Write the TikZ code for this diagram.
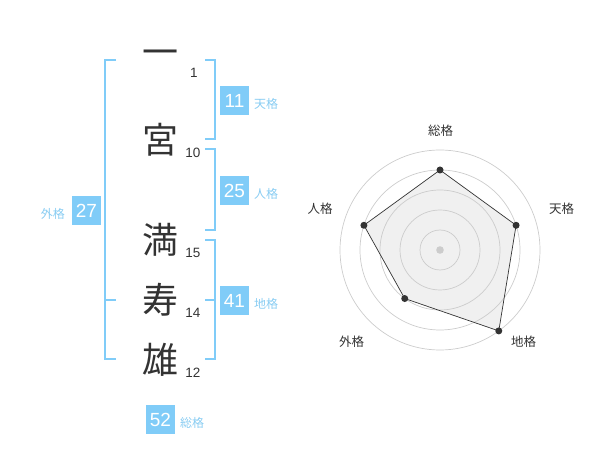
\documentclass[tikz,border=0pt]{standalone}
\usepackage{fontspec}
\usetikzlibrary{calc}
\setmainfont{Liberation Sans}
\newfontfamily\cjk{Noto Sans CJK JP}
\definecolor{skyb}{HTML}{80CCF8}
\definecolor{skyl}{HTML}{88CCF2}
\definecolor{ink}{HTML}{333333}
\definecolor{ringc}{HTML}{CCCCCC}
\definecolor{fillc}{HTML}{F0F0F0}
\begin{document}
\begin{tikzpicture}[x=1pt,y=-1pt,
  kanji/.style={inner sep=0pt,text=ink,font=\cjk\fontsize{36}{36}\selectfont},
  strokes/.style={inner sep=0pt,text=ink,font=\fontsize{13.5}{13.5}\selectfont},
  numbox/.style={fill=skyb,text=white,minimum width=29pt,minimum height=29pt,inner sep=0pt,font=\fontsize{19}{19}\selectfont},
  kaku/.style={inner sep=0pt,text=skyl,font=\cjk\fontsize{12}{12}\selectfont},
  brk/.style={draw=skyb,line width=2pt},
  ring/.style={draw=ringc,line width=0.7pt},
  axlab/.style={inner sep=0pt,text=ink,font=\cjk\fontsize{12.5}{12.5}\selectfont},
  dot/.style={circle,fill=ink,inner sep=0pt,minimum size=7pt}]
\useasboundingbox (0,0) rectangle (600,470);

% name characters
\node[kanji] (k1) at (160,58) {一};
\node[kanji] (k2) at (160,140) {宮};
\node[kanji] (k3) at (160,240) {満};
\node[kanji] (k4) at (160,300) {寿};
\node[kanji] (k5) at (160,360) {雄};
% stroke counts
\node[strokes] (s1) at (194,73) {1};
\node[strokes] (s2) at (193,153) {10};
\node[strokes] (s3) at (193,253) {15};
\node[strokes] (s4) at (193,313) {14};
\node[strokes] (s5) at (193,373) {12};

% brackets
\draw[brk] (116,60) -- (105,60) -- (105,359) -- (116,359);
\draw[brk] (105,300) -- (116,300);
\draw[brk] (205,60) -- (215,60) -- (215,139) -- (205,139);
\draw[brk] (205,149) -- (215,149) -- (215,230) -- (205,230);
\draw[brk] (205,240) -- (215,240) -- (215,359) -- (205,359);
\draw[brk] (205,300) -- (215,300);

% boxes
\node[numbox] (b11) at (234.5,100.5) {11};
\node[kaku,anchor=west] (l11) at (254,104) {天格};
\node[numbox] (b25) at (234.5,190.5) {25};
\node[kaku,anchor=west] (l25) at (254,194) {人格};
\node[numbox] (b41) at (234.5,300.5) {41};
\node[kaku,anchor=west] (l41) at (254,304) {地格};
\node[numbox] (b27) at (86.5,210.5) {27};
\node[kaku,anchor=east] (l27) at (65,214) {外格};
\node[numbox] (b52) at (160.5,419.5) {52};
\node[kaku,anchor=west] (l52) at (180,423) {総格};

% radar chart (y axis points down, so angles are mirrored)
\coordinate (c) at (440,250);
\coordinate (q1) at ($(c)+(-90:80)$);
\coordinate (q2) at ($(c)+(-18:80)$);
\coordinate (q3) at ($(c)+(54:100)$);
\coordinate (q4) at ($(c)+(126:60)$);
\coordinate (q5) at ($(c)+(198:80)$);
\fill[fillc] (q1) -- (q2) -- (q3) -- (q4) -- (q5) -- cycle;
\foreach \r in {20,40,60,80,100} \draw[ring] (c) circle[radius=\r];
\fill[ringc] (c) circle[radius=3.8];
\draw[ink,line width=0.7pt] (q1) -- (q2) -- (q3) -- (q4) -- (q5) -- cycle;
\node[dot] (p1) at (q1) {};
\node[dot] (p2) at (q2) {};
\node[dot] (p3) at (q3) {};
\node[dot] (p4) at (q4) {};
\node[dot] (p5) at (q5) {};
\node[axlab] (a1) at (440.5,130.5) {総格};
\node[axlab] (a2) at (561.5,208.5) {天格};
\node[axlab] (a3) at (320,208.5) {人格};
\node[axlab] (a4) at (351.5,341.5) {外格};
\node[axlab] (a5) at (523.5,341.5) {地格};
\end{tikzpicture}
\end{document}
